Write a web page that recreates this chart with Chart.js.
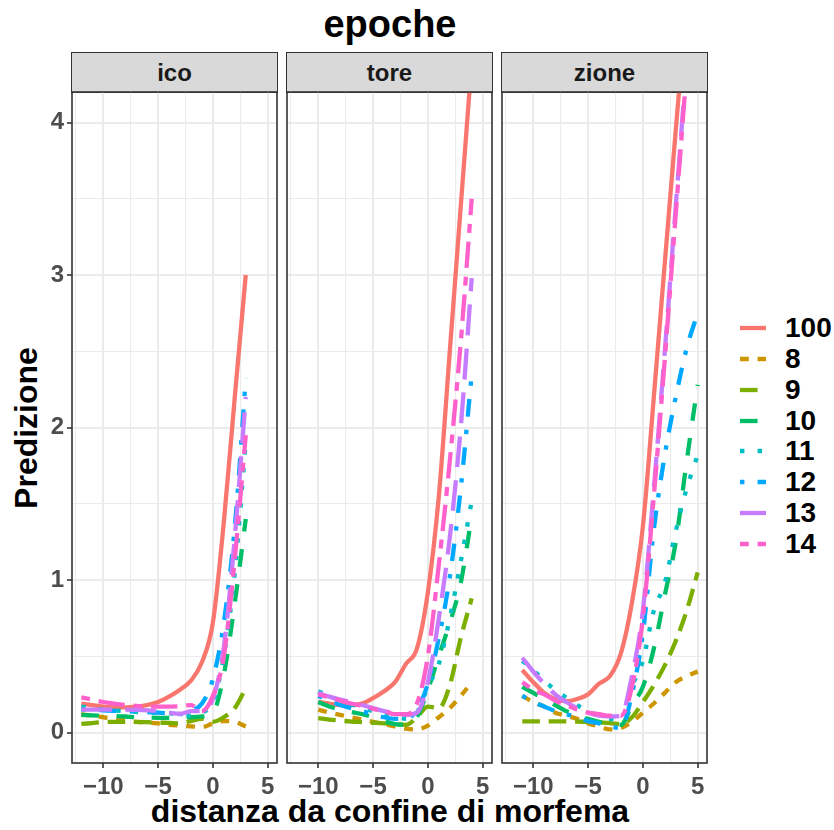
<!DOCTYPE html>
<html><head><meta charset="utf-8">
<script src="https://cdn.jsdelivr.net/npm/chart.js@4.4.1/dist/chart.umd.min.js"></script>
<style>
body{margin:0;background:#fff;width:834px;height:830px;position:relative;overflow:hidden;font-family:"Liberation Sans",Arial,sans-serif;}
canvas{position:absolute;}
.strip{position:absolute;top:52px;height:41px;background:#D9D9D9;border:1.6px solid #333;box-sizing:border-box;font-weight:bold;font-size:24px;color:#1A1A1A;display:flex;align-items:center;justify-content:center;}
.title{position:absolute;left:0;width:780px;top:5px;text-align:center;font-weight:bold;font-size:38px;line-height:38px;color:#000;}
.xtitle{position:absolute;left:0;width:780px;top:795px;text-align:center;font-weight:bold;font-size:32px;line-height:32px;color:#000;}
.ytitle{position:absolute;left:26px;top:428px;transform:translate(-50%,-50%) rotate(-90deg);font-weight:bold;font-size:32px;line-height:32px;white-space:nowrap;color:#000;}
.lrow{position:absolute;left:740px;height:30px;}
.lrow svg{position:absolute;left:0;top:0;}
.lrow span{position:absolute;left:45px;top:0;font-weight:bold;font-size:28px;line-height:30px;color:#000;white-space:nowrap;}
</style>
</head><body>
<div class="title">epoche</div>
<div class="ytitle">Predizione</div>
<div class="xtitle">distanza da confine di morfema</div>
<div id="legend"></div>
<script>
// ---------- data ----------
const panelNames = ['ico', 'tore', 'zione'];
const seriesLabels = ['100', '8', '9', '10', '11', '12', '13', '14'];
const xTicks = [-10, -5, 0, 5];
const yTicks = [0, 1, 2, 3, 4];

const xIco = [-12, -11, -10, -9, -8, -7, -6, -5, -4, -3, -2, -1, 0, 1, 2, 3];
const ico_100 = [0.19, 0.18, 0.17, 0.165, 0.165, 0.17, 0.18, 0.20, 0.235, 0.28, 0.34, 0.46, 0.72, 1.38, 2.20, 3.00];
const ico_8   = [0.12, 0.11, 0.10, 0.09, 0.08, 0.07, 0.065, 0.06, 0.05, 0.045, 0.04, 0.035, 0.06, 0.075, 0.07, 0.04];
const ico_9   = [0.056, 0.062, 0.068, 0.07, 0.07, 0.07, 0.068, 0.065, 0.063, 0.06, 0.075, 0.09, 0.07, 0.10, 0.16, 0.29];
const ico_10  = [0.115, 0.112, 0.11, 0.108, 0.105, 0.10, 0.098, 0.096, 0.096, 0.098, 0.10, 0.105, 0.13, 0.38, 0.85, 1.40];
const ico_11  = [0.17, 0.16, 0.15, 0.145, 0.14, 0.135, 0.13, 0.13, 0.125, 0.12, 0.11, 0.13, 0.20, 0.50, 1.05, 1.90];
const ico_12  = [0.15, 0.148, 0.145, 0.142, 0.14, 0.137, 0.133, 0.13, 0.125, 0.12, 0.14, 0.19, 0.35, 0.72, 1.35, 2.32];
const ico_13  = [0.15, 0.15, 0.15, 0.15, 0.15, 0.148, 0.145, 0.14, 0.13, 0.123, 0.14, 0.145, 0.22, 0.56, 1.28, 2.20];
const ico_14  = [0.23, 0.215, 0.20, 0.19, 0.18, 0.175, 0.17, 0.17, 0.17, 0.172, 0.18, 0.14, 0.24, 0.50, 1.14, 1.95];

const xTore = [-10, -9, -8, -7, -6, -5, -4, -3, -2, -1, 0, 1, 2, 3, 4];
const tore_100 = [0.20, 0.19, 0.18, 0.18, 0.19, 0.225, 0.27, 0.33, 0.45, 0.55, 0.92, 1.55, 2.50, 3.45, 4.40];
const tore_8   = [0.15, 0.13, 0.115, 0.10, 0.085, 0.07, 0.055, 0.04, 0.025, 0.02, 0.045, 0.10, 0.16, 0.24, 0.33];
const tore_9   = [0.095, 0.085, 0.078, 0.072, 0.068, 0.064, 0.06, 0.055, 0.05, 0.10, 0.17, 0.16, 0.31, 0.62, 0.88];
const tore_10  = [0.20, 0.17, 0.15, 0.135, 0.12, 0.10, 0.075, 0.055, 0.05, 0.10, 0.28, 0.50, 0.72, 0.98, 1.42];
const tore_11  = [0.27, 0.24, 0.21, 0.185, 0.16, 0.14, 0.12, 0.10, 0.09, 0.13, 0.30, 0.45, 0.75, 1.12, 1.52];
const tore_12  = [0.24, 0.21, 0.18, 0.16, 0.14, 0.12, 0.10, 0.09, 0.09, 0.15, 0.32, 0.62, 1.02, 1.60, 2.35];
const tore_13  = [0.26, 0.235, 0.215, 0.20, 0.18, 0.16, 0.14, 0.125, 0.115, 0.13, 0.33, 0.75, 1.28, 2.00, 2.98];
const tore_14  = [0.25, 0.23, 0.21, 0.19, 0.175, 0.155, 0.14, 0.12, 0.12, 0.19, 0.50, 1.10, 1.78, 2.56, 3.50];

const xZione = [-11, -10, -9, -8, -7, -6, -5, -4, -3, -2, -1, 0, 1, 2, 3, 4, 5];
const zione_100 = [0.41, 0.33, 0.26, 0.22, 0.205, 0.22, 0.25, 0.32, 0.37, 0.52, 0.85, 1.35, 2.20, 3.08, 3.95, 4.80, 5.65];
const zione_8   = [0.24, 0.20, 0.17, 0.13, 0.11, 0.09, 0.06, 0.04, 0.02, 0.03, 0.07, 0.13, 0.19, 0.26, 0.33, 0.37, 0.40];
const zione_9   = [0.073, 0.073, 0.073, 0.073, 0.073, 0.072, 0.07, 0.066, 0.062, 0.055, 0.10, 0.20, 0.31, 0.44, 0.60, 0.80, 1.05];
const zione_10  = [0.30, 0.26, 0.22, 0.18, 0.14, 0.11, 0.09, 0.07, 0.055, 0.05, 0.18, 0.30, 0.55, 0.90, 1.25, 1.78, 2.28];
const zione_11  = [0.47, 0.41, 0.34, 0.28, 0.23, 0.18, 0.14, 0.11, 0.09, 0.08, 0.30, 0.47, 0.80, 0.98, 1.32, 1.60, 1.82];
const zione_12  = [0.24, 0.20, 0.17, 0.14, 0.12, 0.10, 0.075, 0.06, 0.04, 0.03, 0.25, 0.65, 1.33, 1.82, 2.20, 2.52, 2.75];
const zione_13  = [0.49, 0.40, 0.32, 0.25, 0.20, 0.16, 0.13, 0.11, 0.105, 0.11, 0.37, 0.80, 1.60, 2.50, 3.45, 4.40, 5.30];
const zione_14  = [0.33, 0.28, 0.25, 0.21, 0.18, 0.15, 0.13, 0.12, 0.11, 0.11, 0.30, 0.75, 1.55, 2.45, 3.40, 4.35, 5.25];

// ---------- styles ----------
const colors = ['#F8766D', '#CD9600', '#7CAE00', '#00BE67', '#00BFC4', '#00A9FF', '#C77CFF', '#FF61CC'];
const U = 4.4;
const dashes = [[], [2, 2], [4, 2], [4, 4], [1, 3], [1, 3, 4, 3], [7, 3], [2, 2, 6, 2]].map(d => d.map(v => v * U));
const LW = 4.3;

const panels = [
  { name: panelNames[0], xs: xIco,   series: [ico_100, ico_8, ico_9, ico_10, ico_11, ico_12, ico_13, ico_14],   left: 72 },
  { name: panelNames[1], xs: xTore,  series: [tore_100, tore_8, tore_9, tore_10, tore_11, tore_12, tore_13, tore_14], left: 287 },
  { name: panelNames[2], xs: xZione, series: [zione_100, zione_8, zione_9, zione_10, zione_11, zione_12, zione_13, zione_14], left: 502 }
];
const PW = 205, PTOP = 92, PH = 671;
const AXW = 70, AXH = 60, PADT = 10, PADR = 10;

const xGrid = [-12.5, -10, -7.5, -5, -2.5, 0, 2.5, 5];
const yGrid = [0, 0.5, 1, 1.5, 2, 2.5, 3, 3.5, 4];
const fmt = v => v < 0 ? '\u2212' + Math.abs(v) : String(v);
const tickFont = { family: 'Liberation Sans', size: 24, weight: 'bold' };

const boxPlugin = {
  id: 'panelBox',
  afterDraw(chart) {
    const { ctx, chartArea: a } = chart;
    ctx.save();
    ctx.strokeStyle = '#333333';
    ctx.lineWidth = 1.6;
    ctx.strokeRect(a.left, a.top, a.right - a.left, a.bottom - a.top);
    ctx.restore();
  }
};

panels.forEach((p, pi) => {
  const strip = document.createElement('div');
  strip.className = 'strip';
  strip.style.left = (p.left - 0.8) + 'px';
  strip.style.width = (PW + 1.6) + 'px';
  strip.textContent = p.name;
  document.body.appendChild(strip);

  const cv = document.createElement('canvas');
  const W = AXW + PW + PADR, H = PADT + PH + AXH;
  cv.width = W; cv.height = H;
  cv.style.left = (p.left - AXW) + 'px';
  cv.style.top = (PTOP - PADT) + 'px';
  cv.style.width = W + 'px'; cv.style.height = H + 'px';
  document.body.appendChild(cv);

  const datasets = p.series.map((ys, i) => ({
    label: seriesLabels[i],
    data: p.xs.map((x, j) => ({ x: x, y: ys[j] })),
    borderColor: colors[i],
    backgroundColor: colors[i],
    borderWidth: LW,
    borderDash: dashes[i],
    borderCapStyle: 'butt',
    pointRadius: 0,
    fill: false,
    cubicInterpolationMode: 'monotone',
    clip: 0,
    order: 7 - i
  }));

  const isMajX = v => xTicks.includes(v);
  const isMajY = v => yTicks.includes(v);

  new Chart(cv, {
    type: 'line',
    data: { datasets },
    plugins: [boxPlugin],
    options: {
      responsive: false,
      animation: false,
      devicePixelRatio: 1,
      layout: { padding: { left: 0, top: PADT, right: PADR, bottom: 0 } },
      plugins: { legend: { display: false }, tooltip: { enabled: false } },
      scales: {
        x: {
          type: 'linear', min: -12.85, max: 5.85,
          afterBuildTicks: s => { s.ticks = xGrid.map(v => ({ value: v })); },
          afterFit: s => { s.height = AXH; s.paddingLeft = 0; s.paddingRight = 0; },
          ticks: { autoSkip: false, maxRotation: 0, minRotation: 0, padding: 5, color: '#4D4D4D', font: tickFont,
                   callback: v => isMajX(v) ? fmt(v) : '' },
          grid: { color: '#EBEBEB', lineWidth: c => (c.tick && isMajX(c.tick.value)) ? 2 : 1.1,
                  drawTicks: true, tickLength: 5, tickWidth: 1.6,
                  tickColor: c => (c.tick && isMajX(c.tick.value)) ? '#333333' : 'rgba(0,0,0,0)' },
          border: { display: false }
        },
        y: {
          type: 'linear', min: -0.2, max: 4.2,
          afterBuildTicks: s => { s.ticks = yGrid.map(v => ({ value: v })); },
          afterFit: s => { s.width = AXW; s.paddingTop = 0; s.paddingBottom = 0; },
          ticks: { display: pi === 0, autoSkip: false, padding: 3, color: '#4D4D4D', font: tickFont,
                   callback: v => isMajY(v) ? fmt(v) : '' },
          grid: { color: '#EBEBEB', lineWidth: c => (c.tick && isMajY(c.tick.value)) ? 2 : 1.1,
                  drawTicks: pi === 0, tickLength: 5, tickWidth: 1.6,
                  tickColor: c => (c.tick && isMajY(c.tick.value)) ? '#333333' : 'rgba(0,0,0,0)' },
          border: { display: false }
        }
      }
    }
  });
});

// ---------- legend ----------
const legend = document.getElementById('legend');
seriesLabels.forEach((lab, i) => {
  const row = document.createElement('div');
  row.className = 'lrow';
  const cy = 328 + i * 30.85;
  row.style.top = (cy - 15) + 'px';
  const dash = dashes[i].length ? dashes[i].join(',') : 'none';
  row.innerHTML = '<svg width="26" height="30"><line x1="0" y1="15" x2="26" y2="15" stroke="' + colors[i] +
    '" stroke-width="' + LW + '" stroke-dasharray="' + dash + '"/></svg><span>' + lab + '</span>';
  legend.appendChild(row);
});
</script>
</body></html>
